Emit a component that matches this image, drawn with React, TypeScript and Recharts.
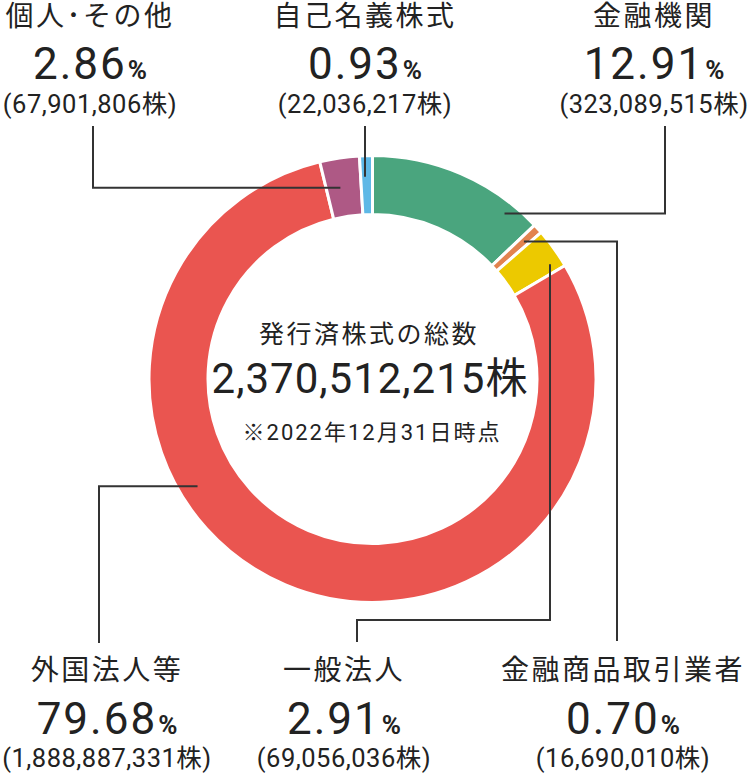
import { PieChart, Pie, Cell } from 'recharts'

// 株主構成（2022年12月31日時点）
const categories = ['金融機関', '金融商品取引業者', '一般法人', '外国法人等', '個人･その他', '自己名義株式']
const percents = [12.91, 0.7, 2.91, 79.68, 2.86, 0.93]
const shareLabels = ['323,089,515', '16,690,010', '69,056,036', '1,888,887,331', '67,901,806', '22,036,217']
const totalShares = '2,370,512,215'
const asOfLabel = '※2022年12月31日時点'

const COLORS = ['#4aa57e', '#e2834f', '#ecc900', '#ea5550', '#ae5985', '#5eb8e6']

// 引き出し線とラベルの配置
// t: スライス内の角度位置, rf: リング内の半径位置
const LEADERS: { t: number; rf: number; path: [string, number][]; tx: number; row: 'top' | 'bottom' }[] = [
  { t: 0.83, rf: 0.8, path: [['h', 665], ['v', 126]], tx: 654, row: 'top' },
  { t: 0.5, rf: 0.68, path: [['h', 617], ['v', 641]], tx: 623, row: 'bottom' },
  { t: 0.77, rf: 0.79, path: [['v', 620], ['h', 357], ['v', 642]], tx: 344, row: 'bottom' },
  { t: 0.624, rf: 0.69, path: [['h', 99], ['v', 643]], tx: 107, row: 'bottom' },
  { t: 0.4, rf: 0.5, path: [['h', 93], ['v', 126]], tx: 90, row: 'top' },
  { t: 0.39, rf: 0.64, path: [['v', 126]], tx: 365, row: 'top' },
]

const ROWS = {
  top: { title: 26, pct: 79, shares: 113 },
  bottom: { title: 680, pct: 734, shares: 767 },
}

const FONT = "Roboto, 'Noto Sans CJK JP', sans-serif"
const INK = '#222'
const RAD = Math.PI / 180

const data = categories.map((name, i) => ({ name, value: percents[i] }))

function renderLabel(props: any) {
  const { cx, cy, innerRadius, outerRadius, startAngle, endAngle, midAngle, index } = props
  const cfg = LEADERS[index]
  const sa = startAngle ?? midAngle
  const ea = endAngle ?? midAngle
  const ang = sa + (ea - sa) * cfg.t
  const r = innerRadius + (outerRadius - innerRadius) * cfg.rf
  let x = cx + r * Math.cos(-ang * RAD)
  let y = cy + r * Math.sin(-ang * RAD)
  if (cfg.path[0][0] === 'v') x = Math.round(x)
  let d = `M${x},${y}`
  for (const [dir, v] of cfg.path) {
    if (dir === 'h') x = v
    else y = v
    d += ` L${x},${y}`
  }
  const row = ROWS[cfg.row]
  return (
    <g key={`lbl-${index}`}>
      <path d={d} fill="none" stroke="#333" strokeWidth={2} />
      <text x={cfg.tx} y={row.title} textAnchor="middle" fontSize={28} letterSpacing={2.5} fill={INK} fontFamily={FONT}>
        {categories[index]}
      </text>
      <text x={cfg.tx} y={row.pct} textAnchor="middle" fill={INK} fontFamily={FONT}>
        <tspan fontSize={44} letterSpacing={2}>{percents[index].toFixed(2)}</tspan>
        <tspan fontSize={26} fontWeight={700} dx={1}>%</tspan>
      </text>
      <text x={cfg.tx} y={row.shares} textAnchor="middle" fontSize={25.5} letterSpacing={0.5} fill={INK} fontFamily={FONT}>
        {`(${shareLabels[index]}株)`}
      </text>
    </g>
  )
}

export default function App() {
  return (
    <div style={{ position: 'absolute', left: 0, top: 0, width: 749, height: 776, background: '#fff' }}>
      <PieChart width={749} height={776} margin={{ top: 0, right: 0, bottom: 0, left: 0 }}>
        <Pie
          data={data}
          dataKey="value"
          nameKey="name"
          cx={372.5}
          cy={379}
          innerRadius={164.5}
          outerRadius={223.5}
          startAngle={90}
          endAngle={-270}
          stroke="#fff"
          strokeWidth={3}
          label={renderLabel}
          labelLine={false}
          isAnimationActive={false}
        >
          {data.map((_, i) => (
            <Cell key={i} fill={COLORS[i]} />
          ))}
        </Pie>
        <text x={369} y={343} textAnchor="middle" fontSize={25} letterSpacing={2.5} fill={INK} fontFamily={FONT}>
          発行済株式の総数
        </text>
        <text x={370} y={393} textAnchor="middle" fontSize={42} letterSpacing={1} fill={INK} fontFamily={FONT}>
          {`${totalShares}株`}
        </text>
        <text x={372} y={440} textAnchor="middle" fontSize={22} letterSpacing={2} fill={INK} fontFamily={FONT}>
          {asOfLabel}
        </text>
      </PieChart>
    </div>
  )
}
